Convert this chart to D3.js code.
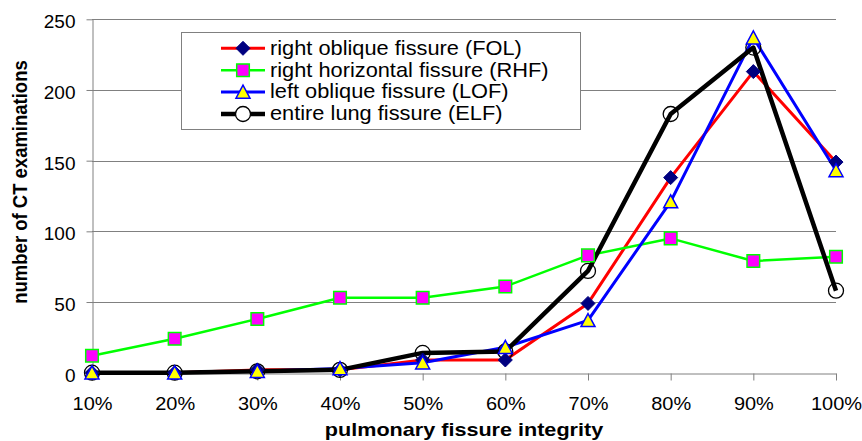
<!DOCTYPE html>
<html><head><meta charset="utf-8">
<script src="https://cdn.jsdelivr.net/npm/d3@7"></script>
<style>
body{margin:0;background:#fff}
svg{display:block}
text{font-family:"Liberation Sans",Arial,sans-serif;fill:#000}
</style>
</head><body>
<svg width="862" height="441"></svg>
<script>
// ---- data ----
const categories = ["10%","20%","30%","40%","50%","60%","70%","80%","90%","100%"];
const yTicks = [0,50,100,150,200,250];
const fol = [0,0,2,2,9,9,49,138,213,149];
const rhf = [12,24,38,53,53,61,83,95,79,82];
const lof = [0,0,1,3,7,18,37,121,237,143];
const elf = [0,0,1,2,14,15,72,183,230,58];
const seriesNames = ["right oblique fissure (FOL)","right horizontal fissure (RHF)","left oblique fissure (LOF)","entire lung fissure (ELF)"];
const xTitle = "pulmonary fissure integrity";
const yTitle = "number of CT examinations";

// ---- styles ----
const styles = [
  {values: fol, line:"#ff0000", lw:3,   marker:"diamond",  fill:"#000080", stroke:"#000080", sw:1},
  {values: rhf, line:"#00ff00", lw:2.5, marker:"square",   fill:"#ff00ff", stroke:"#00ff00", sw:1.5},
  {values: lof, line:"#0000ff", lw:3,   marker:"triangle", fill:"#ffff00", stroke:"#0000ff", sw:1.5},
  {values: elf, line:"#000000", lw:4.5, marker:"circle",   fill:"none",    stroke:"#000000", sw:1.3}
];
const markerPath = {
  diamond: "M0,-7L7,0L0,7L-7,0Z",
  square: "M-6.3,-6.3H6.3V6.3H-6.3Z",
  triangle: "M0,-6.8L7,6.2L-7,6.2Z",
  circle: d3.arc()({innerRadius:0, outerRadius:7.5, startAngle:0, endAngle:2*Math.PI})
};

const svg = d3.select("svg");
const x = d3.scalePoint().domain(categories).range([92, 836]).padding(0);
const y = d3.scaleLinear().domain([0, 250]).range([372.7, 19.3]);

// gridlines
svg.append("g").selectAll("line").data(yTicks.filter(d => d > 0)).join("line")
  .attr("x1", 92).attr("x2", 836)
  .attr("y1", d => Math.round(y(d)) + 0.5).attr("y2", d => Math.round(y(d)) + 0.5)
  .attr("stroke", "#808080").attr("stroke-width", 1);

// x axis
const gx = svg.append("g").attr("transform", `translate(0,${Math.round(y(0)) + 0.5})`)
  .call(d3.axisBottom(x).tickSize(7).tickSizeOuter(0));
gx.attr("font-family", null).attr("font-size", null);
gx.select(".domain").attr("stroke", "#808080");
gx.selectAll(".tick line").attr("stroke", "#808080");
gx.selectAll(".tick text").attr("dy", null).attr("y", 37).attr("font-size", 19)
  .attr("fill", "#000").attr("transform", "scale(1.05,1)");

// y axis
const gy = svg.append("g").attr("transform", `translate(${92.5},0)`)
  .call(d3.axisLeft(y).tickValues(yTicks).tickSize(6).tickSizeOuter(0));
gy.attr("font-family", null).attr("font-size", null);
gy.select(".domain").attr("stroke", "#808080");
gy.selectAll(".tick line").attr("stroke", "#808080");
gy.selectAll(".tick text").attr("dy", null).attr("x", -17).attr("y", 8.5).attr("font-size", 19)
  .attr("fill", "#000").attr("text-anchor", "end");

// axis titles
svg.append("text").attr("x", 464 / 1.2).attr("y", 436).attr("text-anchor", "middle")
  .attr("font-size", 18).attr("font-weight", "bold").attr("transform", "scale(1.2,1)").text(xTitle);
svg.append("text").attr("transform", "translate(27,182) rotate(-90) scale(1,1.05)").attr("text-anchor", "middle")
  .attr("font-size", 18.5).attr("font-weight", "bold").text(yTitle);

// lines
const line = d3.line().x((d, i) => x(categories[i])).y(d => y(d));
styles.forEach(s => {
  svg.append("path").datum(s.values).attr("d", line)
    .attr("fill", "none").attr("stroke", s.line).attr("stroke-width", s.lw)
    .attr("stroke-linejoin", "round");
});
// markers (circles first so triangles sit above)
[3, 0, 1, 2].forEach(k => {
  const s = styles[k];
  svg.append("g").selectAll("path").data(s.values).join("path")
    .attr("transform", (d, i) => `translate(${x(categories[i])},${y(d)})`)
    .attr("d", markerPath[s.marker])
    .attr("fill", s.fill).attr("stroke", s.stroke).attr("stroke-width", s.sw);
});

// legend
const lg = svg.append("g");
lg.append("rect").attr("x", 181.5).attr("y", 32.5).attr("width", 399).attr("height", 97)
  .attr("fill", "#fff").attr("stroke", "#808080").attr("stroke-width", 1);
const rowY = [48.3, 70.2, 92, 114];
styles.forEach((s, k) => {
  const cy = rowY[k];
  lg.append("line").attr("x1", 221).attr("x2", 265).attr("y1", cy).attr("y2", cy)
    .attr("stroke", s.line).attr("stroke-width", s.lw);
  lg.append("path").attr("transform", `translate(243,${cy})`).attr("d", markerPath[s.marker])
    .attr("fill", s.marker === "circle" ? "#fff" : s.fill).attr("stroke", s.stroke).attr("stroke-width", s.sw);
  lg.append("text").attr("x", 270 / 1.09).attr("y", cy + 6.5).attr("font-size", 20)
    .attr("transform", "scale(1.09,1)").text(seriesNames[k]);
});
</script>
</body></html>
